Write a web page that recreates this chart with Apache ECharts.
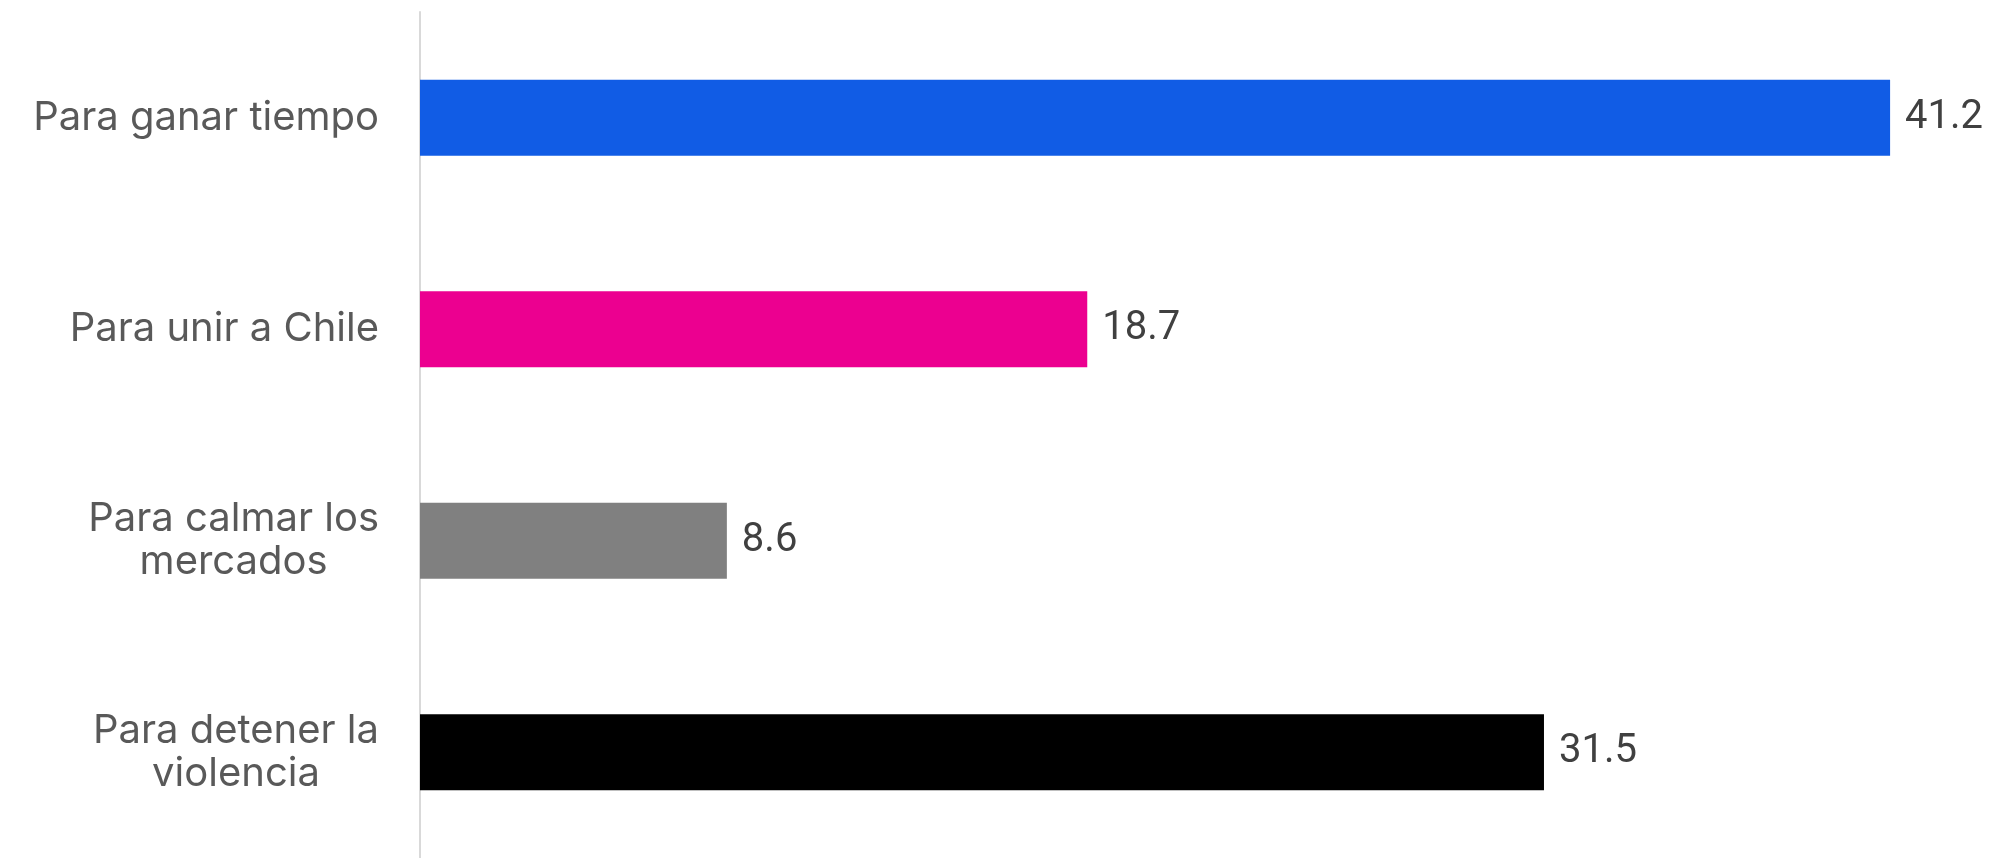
<!DOCTYPE html>
<html>
<head>
<meta charset="utf-8">
<script src="https://cdn.jsdelivr.net/npm/echarts@6/dist/echarts.min.js"></script>
<style>
html,body{margin:0;padding:0;background:#fff;}
#chart{width:2000px;height:858px;}
</style>
</head>
<body>
<div id="chart"></div>
<script>
const categories = ['Para ganar tiempo', 'Para unir a Chile', 'Para calmar los\nmercados', 'Para detener la\nviolencia'];
const values = [41.2, 18.7, 8.6, 31.5];
const barColors = ['#115CE5', '#EC0090', '#808080', '#000000'];

const chart = echarts.init(document.getElementById('chart'));
chart.setOption({
  animation: false,
  grid: { left: 420, top: 12, width: 1570, bottom: -6, containLabel: false },
  xAxis: {
    type: 'value', min: 0, max: 44,
    show: false
  },
  yAxis: {
    type: 'category',
    data: categories,
    inverse: true,
    axisLine: { show: true, lineStyle: { color: '#d9d9d9', width: 2 } },
    axisTick: { show: false },
    axisLabel: {
      margin: 41,
      align: 'right',
      formatter: v => v.split('\n').map(s => '{c|' + s + '}').join('\n'),
      rich: {
        c: {
          align: 'center',
          fontFamily: 'Inter',
          fontSize: 40,
          color: '#595959',
          lineHeight: 43
        }
      }
    }
  },
  series: [{
    type: 'bar',
    data: values.map((v, i) => ({ value: v, itemStyle: { color: barColors[i] } })),
    barWidth: '36%',
    label: {
      show: true,
      position: 'right',
      distance: 15,
      fontFamily: 'Roboto',
      fontSize: 40,
      color: '#404040',
      formatter: p => p.value.toFixed(1)
    }
  }]
});
</script>
</body>
</html>
